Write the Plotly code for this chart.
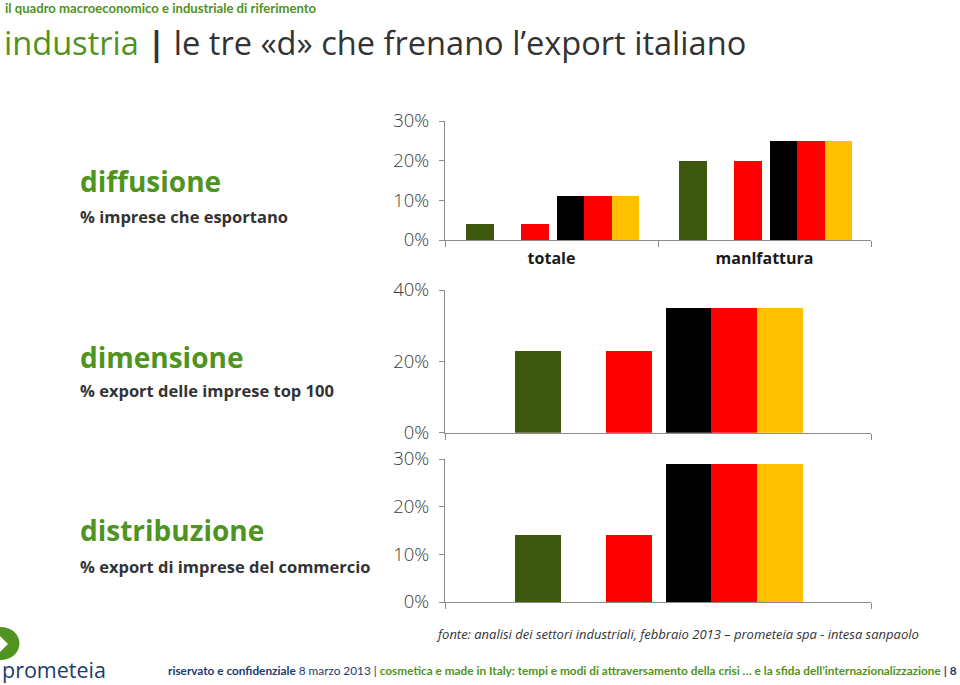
import plotly.graph_objects as go

# ---------------- data ----------------
diffusione_categorie = ["totale", "manlfattura"]
diffusione_italia = [4, 20]
diffusione_germania = [11, 25]

dimensione_categorie = [""]
dimensione_italia = [23]
dimensione_germania = [35]

distribuzione_categorie = [""]
distribuzione_italia = [14]
distribuzione_germania = [29]

ticks_diffusione = [0, 10, 20, 30]
ticks_dimensione = [0, 20, 40]
ticks_distribuzione = [0, 10, 20, 30]

# ---------------- styles ----------------
W, H = 960, 685
GREEN_BAR = "#3d570e"
RED = "#ff0000"
BLACK = "#000000"
GOLD = "#ffc000"
TXT_GREEN = "#4f9320"
NAVY = "#1e3a6e"
DARK = "#333333"
AXIS = "#8c8c8c"


def px(x, y):
    return x / W, 1 - y / H


fig = go.Figure()


def add_panel(n, cats, ita, ger, offs, width):
    xa = "x" if n == 1 else f"x{n}"
    ya = "y" if n == 1 else f"y{n}"
    # Italian flag: green, (white), red
    fig.add_trace(go.Bar(x=cats, y=ita, xaxis=xa, yaxis=ya, offset=offs[0], width=width,
                         marker=dict(color=GREEN_BAR, line=dict(width=0)), showlegend=False))
    fig.add_trace(go.Bar(x=cats, y=ita, xaxis=xa, yaxis=ya, offset=offs[1], width=width,
                         marker=dict(color=RED, line=dict(width=0)), showlegend=False))
    # German flag: black, red, gold
    for col, o in zip([BLACK, RED, GOLD], offs[2:]):
        fig.add_trace(go.Bar(x=cats, y=ger, xaxis=xa, yaxis=ya, offset=o, width=width,
                             marker=dict(color=col, line=dict(width=0)), showlegend=False))


add_panel(1, diffusione_categorie, diffusione_italia, diffusione_germania,
          [-0.401, -0.143, 0.026, 0.154, 0.282], 0.129)
add_panel(2, dimensione_categorie, dimensione_italia, dimensione_germania,
          [-0.336, -0.121, 0.018, 0.125, 0.232], 0.108)
add_panel(3, distribuzione_categorie, distribuzione_italia, distribuzione_germania,
          [-0.336, -0.121, 0.018, 0.125, 0.232], 0.108)

x0, x1 = 445 / W, 871 / W
panels = {
    1: (240, 121, [-0.5, 1.5], ticks_diffusione, [0, 30]),
    2: (432.7, 290, [-0.5, 0.5], ticks_dimensione, [0, 40]),
    3: (602, 459, [-0.5, 0.5], ticks_distribuzione, [0, 30]),
}

layout_axes = {}
for n, (yb, yt, xr, tv, yr) in panels.items():
    xk = "xaxis" if n == 1 else f"xaxis{n}"
    yk = "yaxis" if n == 1 else f"yaxis{n}"
    layout_axes[xk] = dict(
        domain=[x0, x1], range=xr, anchor="y" if n == 1 else f"y{n}",
        showline=True, linecolor=AXIS, linewidth=1, showgrid=False, zeroline=False,
        ticks="outside", tickson="boundaries", ticklen=6, tickcolor=AXIS,
        showticklabels=(n == 1), ticklabelstandoff=4, automargin=False,
        tickfont=dict(family="Open Sans", size=16, color="#1a1a1a", weight="bold"),
        fixedrange=True,
    )
    layout_axes[yk] = dict(
        domain=[1 - yb / H, 1 - yt / H], range=yr, anchor="x" if n == 1 else f"x{n}",
        showline=True, linecolor=AXIS, linewidth=1, showgrid=False, zeroline=False,
        ticks="outside", ticklen=5, tickcolor=AXIS, tickmode="array",
        tickvals=tv, ticktext=[f"{v}%" for v in tv],
        ticklabelstandoff=6, automargin=False,
        tickfont=dict(family="Open Sans", size=18.5, color="#3a3a3a", weight=300),
        fixedrange=True,
    )

annotations = []


def txt(x, y, text, size, color, weight="normal", family="Open Sans", xanchor="left", style="normal"):
    xp, yp = px(x, y)
    annotations.append(dict(xref="paper", yref="paper", x=xp, y=yp, text=text, showarrow=False,
                            xanchor=xanchor, yanchor="middle",
                            font=dict(family=family, size=size, color=color, weight=weight, style=style)))


txt(3, 8, "il quadro macroeconomico e industriale di riferimento", 13.1, TXT_GREEN, "bold", family="Lato")
txt(2, 43, f"<span style='color:{TXT_GREEN}'>industria</span> <b>|</b> le tre «d» che frenano l’export italiano",
    32.6, DARK)

txt(78, 181, "diffusione", 28, TXT_GREEN, "bold")
txt(78, 216, "% imprese che esportano", 16.5, DARK, "bold")
txt(78, 357, "dimensione", 28, TXT_GREEN, "bold")
txt(78, 390, "% export delle imprese top 100", 16.5, DARK, "bold")
txt(78, 530, "distribuzione", 28, TXT_GREEN, "bold")
txt(78, 566, "% export di imprese del commercio", 16.5, DARK, "bold")

txt(921, 634, "fonte: analisi dei settori industriali, febbraio 2013 – prometeia spa - intesa sanpaolo",
    13, DARK, xanchor="right", style="italic")

txt(959, 670,
    f"<b style='color:{NAVY}'>riservato e confidenziale</b> 8 marzo 2013 | "
    f"<b style='color:{TXT_GREEN}'>cosmetica e made in Italy: tempi e modi di attraversamento della crisi … "
    f"e la sfida dell’internazionalizzazione</b> <b>| 8</b>",
    11.8, NAVY, xanchor="right", family="Lato")

txt(0, 669, "prometeia", 21.5, NAVY, family="Open Sans")

# logo chevron
ax, ay = px(0, 627)
bx, by = px(26, 627)
cx, cy = px(26, 660)
dx, dy = px(0, 660)
ex, ey = px(0, 652)
fx, fy = px(8, 644)
gx, gy = px(0, 636)
path = (f"M {ax},{ay} C {bx},{by} {cx},{cy} {dx},{dy} L {ex},{ey} L {fx},{fy} L {gx},{gy} Z")

fig.update_layout(
    width=W, height=H, autosize=False,
    margin=dict(l=0, r=0, t=0, b=0, pad=0, autoexpand=False),
    paper_bgcolor="white", plot_bgcolor="white",
    barmode="overlay", bargap=0,
    showlegend=False,
    annotations=annotations,
    shapes=[dict(type="path", xref="paper", yref="paper", path=path,
                 fillcolor=TXT_GREEN, line=dict(width=0))],
    **layout_axes,
)

fig.write_html("out.html", config={"displayModeBar": False})
